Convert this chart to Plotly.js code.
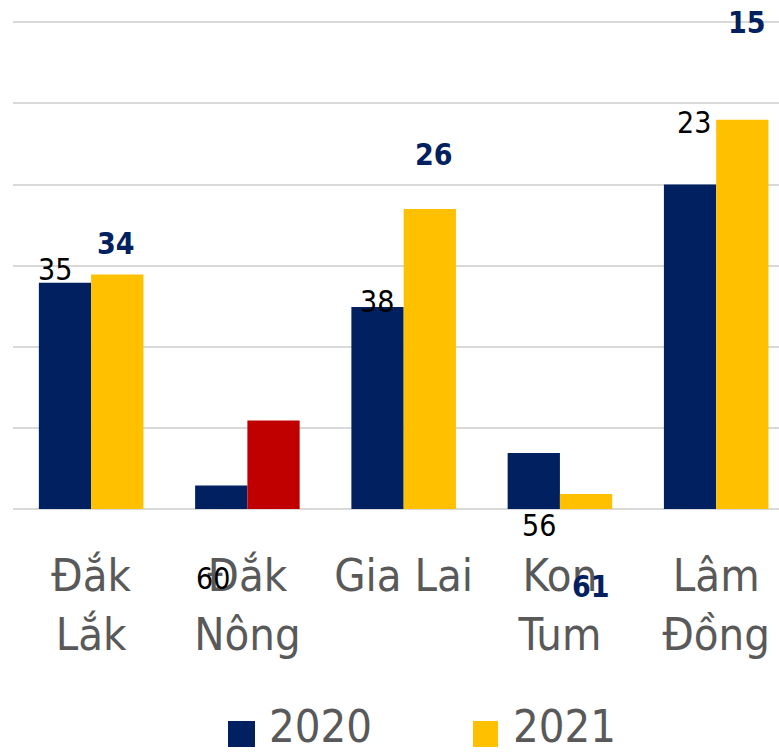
<!DOCTYPE html>
<html>
<head>
<meta charset="utf-8">
<script src="https://cdn.plot.ly/plotly-3.0.1.min.js"></script>
<style>html,body{margin:0;padding:0;background:#fff;}#chart{width:779px;height:754px;}</style>
</head>
<body>
<div id="chart"></div>
<script>
const categories = ["Đắk Lắk", "Đắk Nông", "Gia Lai", "Kon Tum", "Lâm Đồng"];
const tickLabels = ["Đắk<br>Lắk", "Đắk<br>Nông", "Gia Lai", "Kon<br>Tum", "Lâm<br>Đồng"];
const values2020 = [27.9, 2.9, 24.9, 6.9, 40.0];
const values2021 = [28.9, 10.9, 37.0, 1.85, 48.0];
const colors2021 = ["#FFC000", "#C00000", "#FFC000", "#FFC000", "#FFC000"];
const rank2020 = ["35", "60", "38", "56", "23"];
const rank2021 = ["34", "", "26", "61", "15"];
const seriesNames = ["2020", "2021"];

const FONT = "DejaVu Sans Condensed, DejaVu Sans, sans-serif";
const NAVY = "#002060";

// label placement offsets (pixels) relative to category centre / bar top
const off2020 = [[-36, 13], [-34, -93], [-27, 6], [-21, -72], [-22, 62]];
const off2021 = [[25, 31], [0, 0], [30, 54], [31, -92], [31, 97]];

const traces = [
  {type: "bar", name: seriesNames[0], x: categories, y: values2020,
   marker: {color: NAVY}, hoverinfo: "skip", showlegend: false},
  {type: "bar", name: seriesNames[1], x: categories, y: values2021,
   marker: {color: colors2021}, hoverinfo: "skip", showlegend: false}
];

const annotations = [];
categories.forEach((c, i) => {
  if (rank2020[i]) annotations.push({
    x: c, y: values2020[i], xref: "x", yref: "y", text: rank2020[i], showarrow: false,
    xshift: off2020[i][0], yshift: off2020[i][1], xanchor: "center", yanchor: "middle",
    font: {family: FONT, size: 30, color: "#000000"}
  });
  if (rank2021[i]) annotations.push({
    x: c, y: values2021[i], xref: "x", yref: "y", text: "<b>" + rank2021[i] + "</b>", showarrow: false,
    xshift: off2021[i][0], yshift: off2021[i][1], xanchor: "center", yanchor: "middle",
    font: {family: FONT, size: 30, color: NAVY}
  });
});
// custom legend text
annotations.push({xref: "paper", yref: "paper", x: 0.3329, y: -0.4813, xanchor: "left", yanchor: "bottom",
  borderpad: 0,
  text: seriesNames[0], showarrow: false, font: {family: FONT, size: 45, color: "#595959"}});
annotations.push({xref: "paper", yref: "paper", x: 0.6514, y: -0.4813, xanchor: "left", yanchor: "bottom",
  borderpad: 0,
  text: seriesNames[1], showarrow: false, font: {family: FONT, size: 45, color: "#595959"}});

const shapes = [
  {type: "rect", xref: "paper", yref: "paper", x0: 0.2807, x1: 0.3159, y0: -0.4676, y1: -0.4165,
   fillcolor: NAVY, line: {width: 0}},
  {type: "rect", xref: "paper", yref: "paper", x0: 0.6005, x1: 0.6332, y0: -0.4676, y1: -0.4165,
   fillcolor: "#FFC000", line: {width: 0}}
];

const layout = {
  width: 779, height: 754,
  margin: {l: 13, r: 0, t: 0, b: 245, pad: 0},
  paper_bgcolor: "#ffffff", plot_bgcolor: "#ffffff",
  barmode: "group", bargap: 0.331, bargroupgap: 0,
  showlegend: false,
  xaxis: {
    type: "category", range: [-0.5, 4.402],
    tickvals: categories, ticktext: tickLabels,
    tickfont: {family: FONT, size: 45, color: "#595959"},
    ticklabelstandoff: 36,
    showgrid: false, zeroline: false, showline: false, ticks: "",
    fixedrange: true
  },
  yaxis: {
    range: [0, 62.76], dtick: 10, showticklabels: false,
    showgrid: true, gridcolor: "#d9d9d9", gridwidth: 2,
    zeroline: true, zerolinecolor: "#d9d9d9", zerolinewidth: 2,
    ticks: "", fixedrange: true
  },
  annotations: annotations,
  shapes: shapes,
  font: {family: FONT}
};

Plotly.newPlot("chart", traces, layout, {displayModeBar: false, staticPlot: true});
</script>
</body>
</html>
